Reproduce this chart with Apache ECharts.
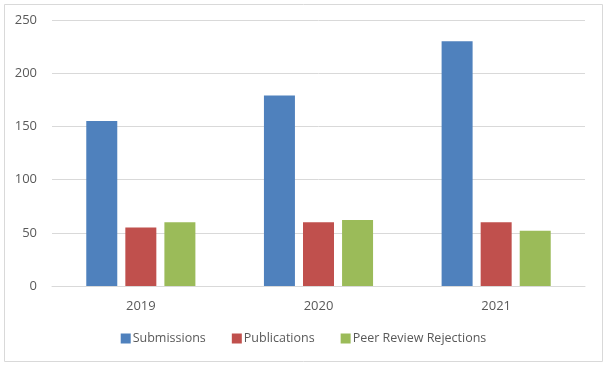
<!DOCTYPE html>
<html>
<head>
<meta charset="utf-8">
<script src="https://cdn.jsdelivr.net/npm/echarts@6/dist/echarts.min.js"></script>
<style>
  html, body { margin: 0; padding: 0; background: #fff; }
  #chart { width: 607px; height: 366px; }
</style>
</head>
<body>
<div id="chart"></div>
<script>
const years = ['2019', '2020', '2021']
const submissions = [155, 179, 230]
const publications = [55, 60, 60]
const rejections = [60, 62, 52]
const yTicks = { min: 0, max: 250, interval: 50 }

const textColor = '#595959'
const font = 'Open Sans'

const chart = echarts.init(document.getElementById('chart'))

const barSeries = (name, data, color) => ({
  name,
  type: 'bar',
  data,
  barWidth: 31,
  barGap: '26%',
  itemStyle: { color }
})

chart.setOption({
  animation: false,
  textStyle: { fontFamily: font },
  graphic: [{
    type: 'rect',
    shape: { x: 4.5, y: 4.5, width: 598, height: 357 },
    style: { fill: 'none', stroke: '#d9d9d9', lineWidth: 1 }
  }],
  grid: { left: 52, right: 22, top: 20, bottom: 80, containLabel: false },
  legend: {
    bottom: 16,
    left: 'center',
    itemWidth: 10,
    itemHeight: 10,
    itemGap: 26,
    icon: 'rect',
    textStyle: { color: textColor, fontSize: 12.5, fontFamily: font, padding: [0, 0, 0, -3] }
  },
  xAxis: {
    type: 'category',
    data: years,
    axisLine: { lineStyle: { color: '#d9d9d9', width: 1 } },
    axisTick: { show: false },
    axisLabel: { color: textColor, fontSize: 13, margin: 14 }
  },
  yAxis: {
    type: 'value',
    min: yTicks.min,
    max: yTicks.max,
    interval: yTicks.interval,
    axisLine: { show: false },
    axisTick: { show: false },
    splitLine: { lineStyle: { color: '#d9d9d9', width: 1 } },
    axisLabel: { color: textColor, fontSize: 13, margin: 15 }
  },
  series: [
    barSeries('Submissions', submissions, '#4F81BD'),
    barSeries('Publications', publications, '#C0504D'),
    barSeries('Peer Review Rejections', rejections, '#9BBB59')
  ]
})
</script>
</body>
</html>
